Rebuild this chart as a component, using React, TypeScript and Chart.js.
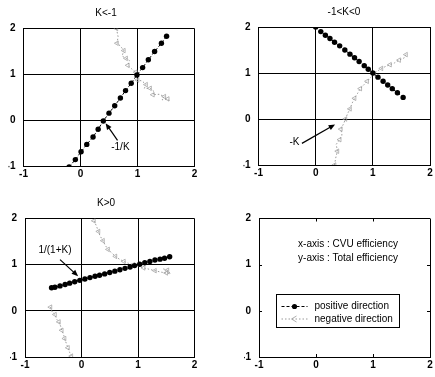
import React, { useEffect, useRef } from "react";
import { Chart, registerables } from "chart.js";
Chart.register(...registerables);

const FONT = "'Liberation Sans', Arial, sans-serif";
const TICK_MIN = -1;
const TICK_MAX = 2;

// Panel titles
const titles = ["K<-1", "-1<K<0", "K>0"];

// Panel 1 (K<-1)
const p1PosX = [-0.2, -0.09, 0.01, 0.11, 0.22, 0.31, 0.4, 0.5, 0.6, 0.7, 0.79, 0.89, 0.99, 1.09, 1.19, 1.3, 1.42, 1.51];
const p1PosY = [-1.01, -0.85, -0.68, -0.52, -0.36, -0.19, -0.01, 0.16, 0.32, 0.49, 0.65, 0.81, 0.99, 1.15, 1.32, 1.5, 1.68, 1.83];
const p1NegX = [0.63, 0.66, 0.64, 0.7, 0.76, 0.73, 0.8, 0.86, 0.83, 0.9, 0.97, 1.02, 1.0, 1.08, 1.15, 1.12, 1.22, 1.3, 1.27, 1.38, 1.47, 1.43, 1.53, 1.56];
const p1NegY = [2.0, 1.82, 1.68, 1.62, 1.52, 1.4, 1.35, 1.3, 1.2, 1.12, 1.05, 0.98, 0.88, 0.86, 0.78, 0.7, 0.7, 0.62, 0.56, 0.57, 0.52, 0.45, 0.47, 0.42];

// Panel 2 (-1<K<0)
const p2PosX = [0.0, 0.09, 0.17, 0.25, 0.33, 0.42, 0.51, 0.6, 0.68, 0.76, 0.85, 0.92, 1.0, 1.09, 1.18, 1.26, 1.34, 1.43, 1.53];
const p2PosY = [2.0, 1.9, 1.82, 1.75, 1.67, 1.59, 1.5, 1.41, 1.33, 1.25, 1.16, 1.08, 1.0, 0.91, 0.82, 0.74, 0.66, 0.57, 0.47];
const p2NegX = [0.33, 0.35, 0.38, 0.36, 0.42, 0.46, 0.44, 0.49, 0.52, 0.56, 0.6, 0.64, 0.68, 0.73, 0.78, 0.84, 0.9, 0.96, 1.02, 1.08, 1.15, 1.22, 1.3, 1.38, 1.46, 1.55, 1.58];
const p2NegY = [-1.0, -0.85, -0.7, -0.55, -0.45, -0.35, -0.22, -0.1, 0.0, 0.12, 0.22, 0.35, 0.45, 0.55, 0.66, 0.74, 0.82, 0.9, 0.98, 1.04, 1.1, 1.14, 1.18, 1.22, 1.28, 1.33, 1.4];

// Panel 3 (K>0)
const p3PosX = [-0.53, -0.47, -0.38, -0.29, -0.21, -0.12, -0.03, 0.06, 0.15, 0.24, 0.32, 0.41, 0.5, 0.59, 0.68, 0.77, 0.86, 0.94, 1.03, 1.12, 1.21, 1.3, 1.39, 1.47, 1.56];
const p3PosY = [0.5, 0.51, 0.54, 0.57, 0.6, 0.63, 0.66, 0.69, 0.72, 0.75, 0.77, 0.8, 0.83, 0.86, 0.89, 0.92, 0.95, 0.98, 1.01, 1.04, 1.07, 1.1, 1.12, 1.14, 1.17];
const p3NegAX = [0.22, 0.26, 0.3, 0.33, 0.38, 0.42, 0.47, 0.53, 0.6, 0.67, 0.75, 0.83, 0.92, 1.0, 1.1, 1.2, 1.3, 1.4, 1.5, 1.58, 1.52, 1.42];
const p3NegAY = [1.95, 1.85, 1.72, 1.62, 1.52, 1.42, 1.33, 1.26, 1.18, 1.12, 1.07, 1.03, 1.0, 0.97, 0.93, 0.9, 0.87, 0.84, 0.82, 0.8, 0.88, 0.92];
const p3NegBX = [-0.55, -0.52, -0.47, -0.44, -0.4, -0.37, -0.35, -0.32, -0.3, -0.27, -0.24, -0.21, -0.18];
const p3NegBY = [0.08, -0.02, -0.08, -0.18, -0.24, -0.33, -0.42, -0.5, -0.6, -0.7, -0.8, -0.9, -0.98];

// Annotations: [label, labelX, labelY, tailX, tailY, headX, headY]
const ann1 = ["-1/K", 0.7, -0.58, 0.65, -0.43, 0.44, -0.06];
const ann2 = ["-K", -0.37, -0.51, -0.24, -0.53, 0.34, -0.12];
const ann3 = ["1/(1+K)", -0.47, 1.32, -0.38, 1.11, -0.06, 0.75];

// Panel 4 text
const axisNotes = ["x-axis : CVU efficiency", "y-axis : Total efficiency"];
const legendLabels = ["positive direction", "negative direction"];

const W = 435;
const H = 377;
const AXW = 15;
const AXH = 15;

const NEG_COLOR = "#9a9a9a";

const pts = (xs: number[], ys: number[]) => xs.map((x, i) => ({ x, y: ys[i] }));

const posDs = (xs: number[], ys: number[], label = "positive direction") => ({
  label,
  data: pts(xs, ys),
  showLine: true,
  borderColor: "#000",
  backgroundColor: "#000",
  borderWidth: 1,
  borderDash: [3, 2],
  pointRadius: 2.7,
  pointBorderWidth: 0,
  pointBackgroundColor: "#000",
  tension: 0,
});

const negDs = (xs: number[], ys: number[], label = "negative direction") => ({
  label,
  data: pts(xs, ys),
  showLine: true,
  borderColor: NEG_COLOR,
  backgroundColor: "rgba(0,0,0,0)",
  borderWidth: 1,
  borderDash: [1.5, 2],
  pointStyle: "triangle",
  rotation: -90,
  pointRadius: (c: any) => (c.dataIndex % 2 === 0 ? 2.6 : 0),
  pointBorderWidth: 0.7,
  pointBorderColor: NEG_COLOR,
  pointBackgroundColor: "rgba(0,0,0,0)",
  tension: 0,
});

function scaleCfg(axis: "x" | "y", grid: boolean) {
  return {
    type: "linear",
    min: TICK_MIN,
    max: TICK_MAX,
    ticks: {
      stepSize: 1,
      padding: axis === "x" ? 2 : 8,
      color: "#000",
      font: { family: FONT, size: 10, weight: "bold" },
    },
    grid: {
      drawTicks: false,
      lineWidth: 1,
      color: (c: any) => {
        const v = c.tick ? c.tick.value : 0;
        return grid || v === TICK_MIN || v === TICK_MAX ? "#000" : "rgba(0,0,0,0)";
      },
    },
    border: { display: true, color: "#000", width: 1 },
    afterFit: (s: any) => {
      if (axis === "x") s.height = AXH;
      else s.width = AXW;
    },
  };
}

function drawArrow(ctx: CanvasRenderingContext2D, x1: number, y1: number, x2: number, y2: number) {
  const a = Math.atan2(y2 - y1, x2 - x1);
  const L = 7;
  ctx.save();
  ctx.strokeStyle = "#000";
  ctx.fillStyle = "#000";
  ctx.lineWidth = 1.2;
  ctx.beginPath();
  ctx.moveTo(x1, y1);
  ctx.lineTo(x2 - Math.cos(a) * L * 0.6, y2 - Math.sin(a) * L * 0.6);
  ctx.stroke();
  ctx.beginPath();
  ctx.moveTo(x2, y2);
  ctx.lineTo(x2 - L * Math.cos(a - 0.4), y2 - L * Math.sin(a - 0.4));
  ctx.lineTo(x2 - L * Math.cos(a + 0.4), y2 - L * Math.sin(a + 0.4));
  ctx.closePath();
  ctx.fill();
  ctx.restore();
}

type Panel = {
  box: [number, number, number, number]; // left, top, right, bottom of plot area
  grid: boolean;
  datasets: any[];
  title?: string;
  titleX?: number;
  ann?: any[];
  legend?: boolean;
};

const panels: Panel[] = [
  {
    box: [23.5, 28.5, 194.5, 166.5],
    grid: true,
    title: titles[0],
    titleX: 106,
    datasets: [posDs(p1PosX, p1PosY), negDs(p1NegX, p1NegY)],
    ann: ann1,
  },
  {
    box: [258.5, 27, 430, 165],
    grid: true,
    title: titles[1],
    titleX: 344,
    datasets: [posDs(p2PosX, p2PosY), negDs(p2NegX, p2NegY)],
    ann: ann2,
  },
  {
    box: [25, 218.5, 194.5, 357],
    grid: true,
    title: titles[2],
    titleX: 106,
    datasets: [posDs(p3PosX, p3PosY), negDs(p3NegAX, p3NegAY), negDs(p3NegBX, p3NegBY)],
    ann: ann3,
  },
  {
    box: [259, 218.5, 430, 357],
    grid: false,
    datasets: [posDs([], [], legendLabels[0]), negDs([], [], legendLabels[1])],
    legend: true,
  },
];

function PanelChart({ p }: { p: Panel }) {
  const ref = useRef<HTMLCanvasElement | null>(null);
  useEffect(() => {
    if (!ref.current) return;
    const [l, t, r, b] = p.box;
    const deco = {
      id: "deco",
      afterDraw(chart: any) {
        const ctx: CanvasRenderingContext2D = chart.ctx;
        const ca = chart.chartArea;
        const xs = chart.scales.x;
        const ys = chart.scales.y;
        ctx.save();
        ctx.fillStyle = "#000";
        ctx.font = `10px ${FONT}`;
        if (p.title) {
          ctx.textAlign = "center";
          ctx.textBaseline = "middle";
          ctx.fillText(p.title, p.titleX ?? (ca.left + ca.right) / 2, ca.top - 15);
        }
        if (p.ann) {
          const [txt, lx, ly, tx, ty, hx, hy] = p.ann;
          ctx.textAlign = "center";
          ctx.textBaseline = "middle";
          ctx.fillText(txt, xs.getPixelForValue(lx), ys.getPixelForValue(ly));
          drawArrow(ctx, xs.getPixelForValue(tx), ys.getPixelForValue(ty), xs.getPixelForValue(hx), ys.getPixelForValue(hy));
        }
        if (!p.grid) {
          ctx.strokeStyle = "#000";
          ctx.lineWidth = 1;
          const tl = 3;
          [0, 1].forEach((v) => {
            const px = Math.round(xs.getPixelForValue(v)) + 0.5;
            const py = Math.round(ys.getPixelForValue(v)) + 0.5;
            ctx.beginPath();
            ctx.moveTo(px, ca.bottom);
            ctx.lineTo(px, ca.bottom - tl);
            ctx.moveTo(px, ca.top);
            ctx.lineTo(px, ca.top + tl);
            ctx.moveTo(ca.left, py);
            ctx.lineTo(ca.left + tl, py);
            ctx.moveTo(ca.right, py);
            ctx.lineTo(ca.right - tl, py);
            ctx.stroke();
          });
        }
        if (p.legend) {
          const cx = ca.left + 89;
          ctx.textAlign = "center";
          ctx.textBaseline = "middle";
          ctx.fillText(axisNotes[0], cx, ca.top + 26);
          ctx.fillText(axisNotes[1], cx, ca.top + 40);
          const bx = Math.round(ca.left + 16.7) + 0.5;
          const by = Math.round(ca.top + 75.8) + 0.5;
          ctx.strokeStyle = "#000";
          ctx.lineWidth = 1;
          ctx.strokeRect(bx, by, 123, 33);
          const rows = [by + 12, by + 24.5];
          chart.data.datasets.forEach((ds: any, i: number) => {
            const y = rows[i];
            const x0 = bx + 5;
            const x1 = bx + 31;
            ctx.save();
            ctx.strokeStyle = ds.borderColor;
            ctx.lineWidth = 1;
            ctx.setLineDash(ds.borderDash);
            ctx.beginPath();
            ctx.moveTo(x0, y);
            ctx.lineTo(x1, y);
            ctx.stroke();
            ctx.setLineDash([]);
            const mx = (x0 + x1) / 2;
            if (i === 0) {
              ctx.fillStyle = "#000";
              ctx.beginPath();
              ctx.arc(mx, y, 2.6, 0, Math.PI * 2);
              ctx.fill();
            } else {
              ctx.strokeStyle = NEG_COLOR;
              ctx.lineWidth = 0.8;
              ctx.beginPath();
              ctx.moveTo(mx + 2, y - 3);
              ctx.lineTo(mx - 3, y);
              ctx.lineTo(mx + 2, y + 3);
              ctx.stroke();
            }
            ctx.restore();
            ctx.fillStyle = "#000";
            ctx.textAlign = "left";
            ctx.textBaseline = "middle";
            ctx.fillText(ds.label, bx + 38, y);
          });
        }
        ctx.restore();
      },
    };
    const chart = new Chart(ref.current, {
      type: "scatter",
      data: { datasets: p.datasets },
      options: {
        responsive: false,
        animation: false,
        events: [],
        layout: {
          padding: { left: l - AXW, top: t, right: W - r, bottom: H - b - AXH },
        },
        plugins: {
          legend: { display: false },
          title: { display: false },
          tooltip: { enabled: false },
        },
        scales: { x: scaleCfg("x", p.grid), y: scaleCfg("y", p.grid) } as any,
      },
      plugins: [deco],
    } as any);
    return () => chart.destroy();
  }, [p]);
  return (
    <canvas
      ref={ref}
      width={W}
      height={H}
      style={{ position: "absolute", left: 0, top: 0, width: W, height: H, display: "block" }}
    />
  );
}

export default function App() {
  return (
    <div style={{ position: "absolute", left: 0, top: 0, width: W, height: H, background: "#fff" }}>
      {panels.map((p, i) => (
        <PanelChart key={i} p={p} />
      ))}
    </div>
  );
}
